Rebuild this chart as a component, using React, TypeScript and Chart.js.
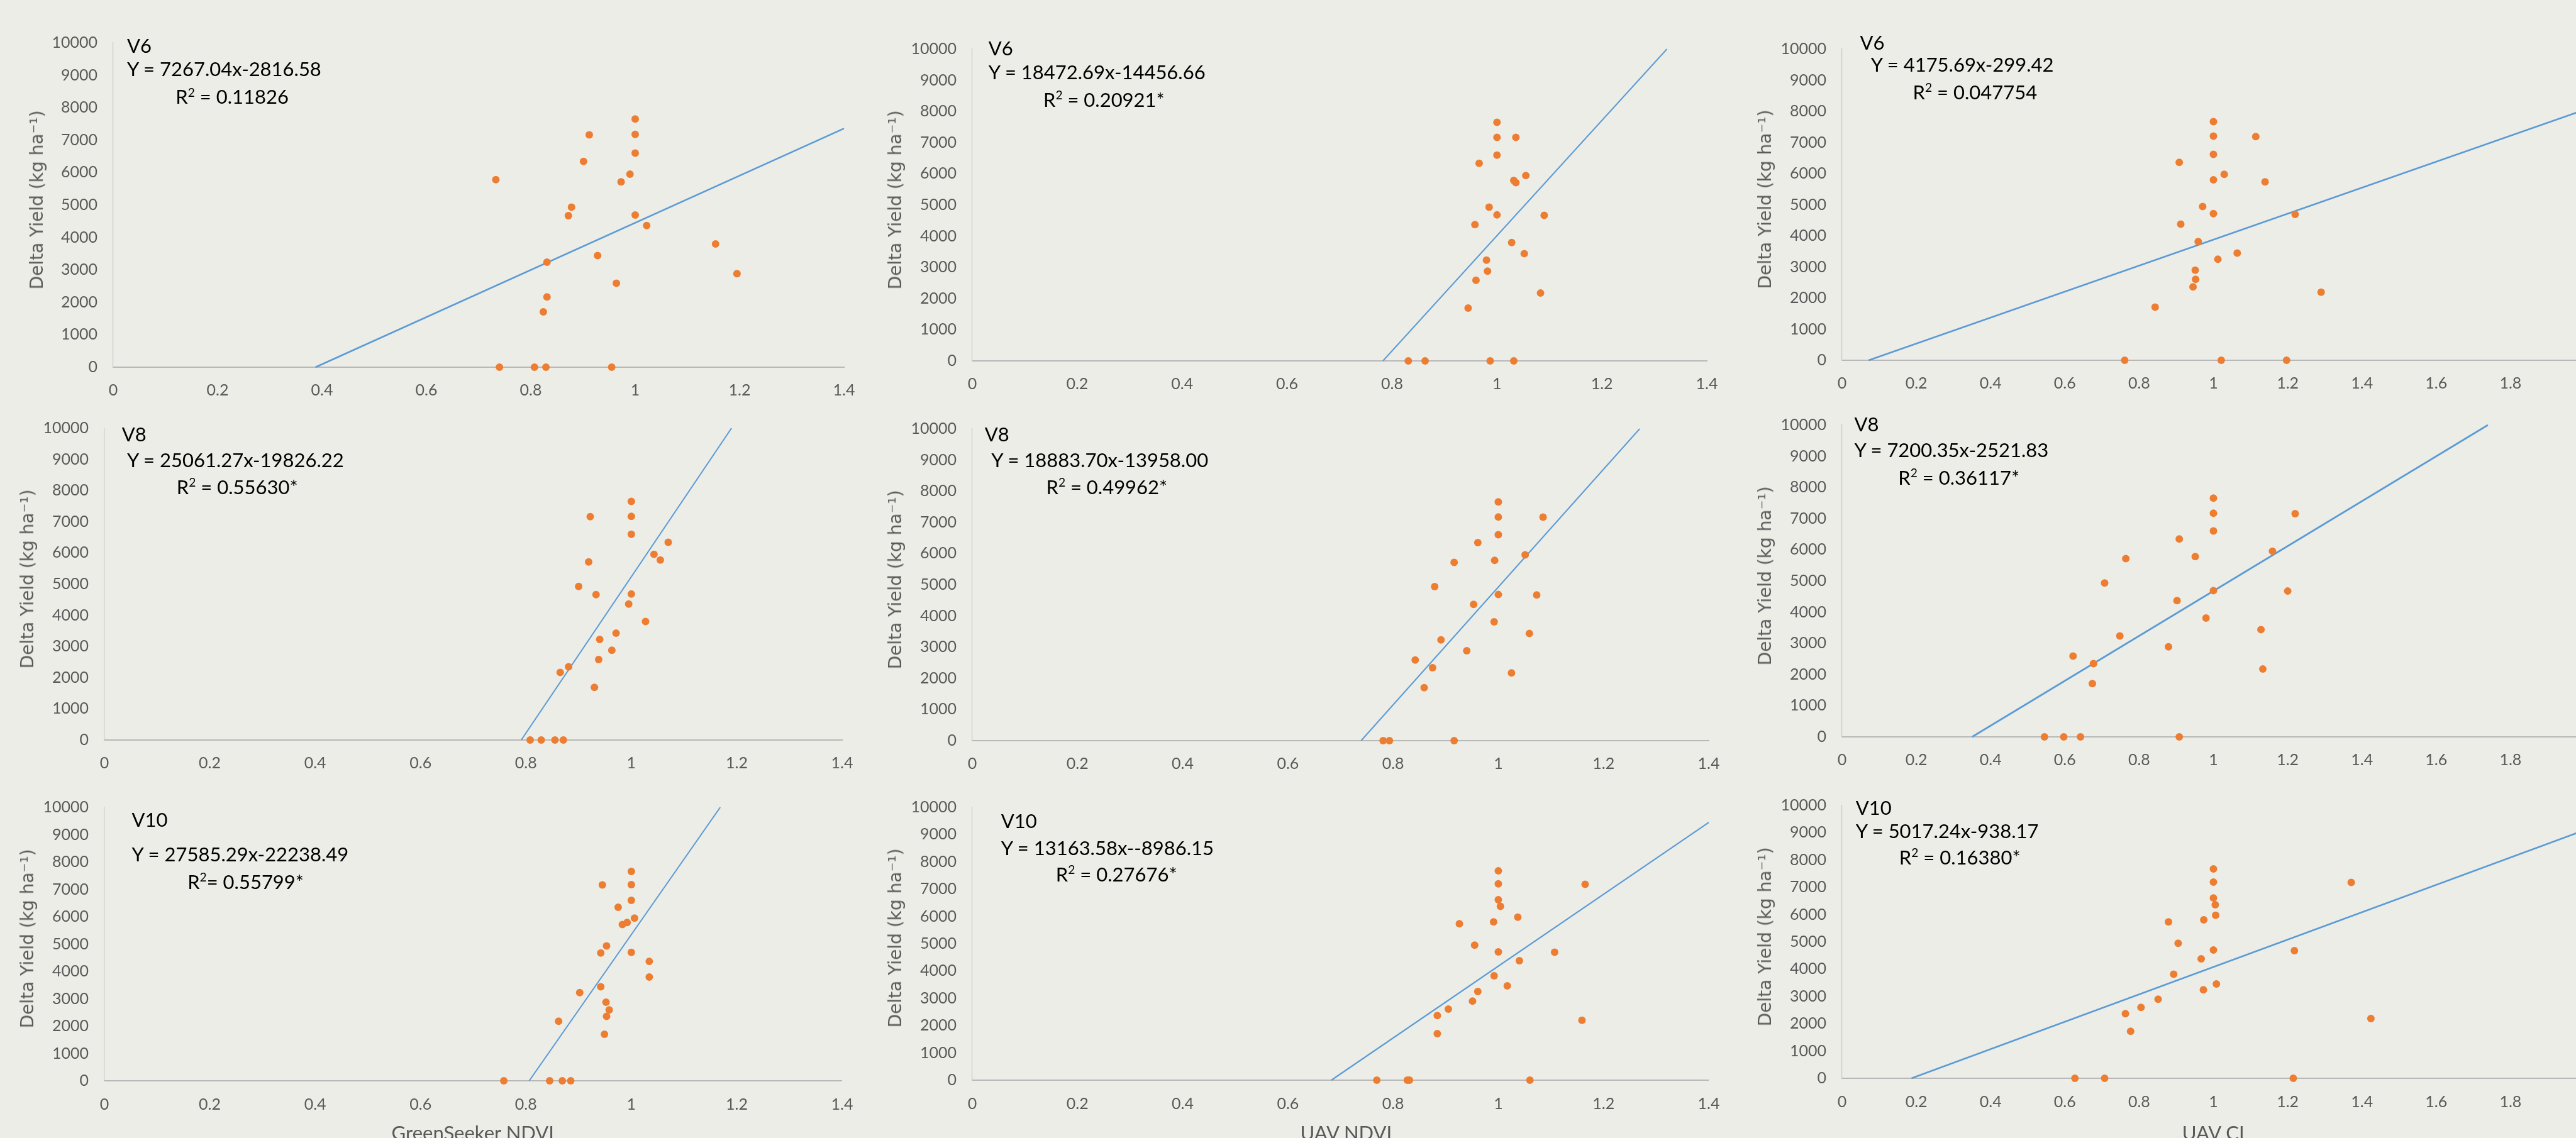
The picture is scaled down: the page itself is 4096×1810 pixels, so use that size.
import React, { useEffect, useRef } from "react";
import { Chart, registerables } from "chart.js";
Chart.register(...registerables);

const S = 0.751;
const TICK_COLOR = "#595959";
const POINT_COLOR = "#ED7D31";
const LINE_COLOR = "#5B9BD5";
const BG = "#EDEDE8";

// ---------- data (x = sensor value, y = delta yield, kg/ha) ----------
const gsV6X = [1.0, 0.912, 1.0, 1.0, 0.901, 0.99, 0.973, 0.733, 0.878, 0.872, 1.0, 1.022, 1.154, 0.928, 0.831, 1.195, 0.964, 0.831, 0.824, 0.74, 0.807, 0.829, 0.955];
const gsV6Y = [7650, 7160, 7175, 6600, 6340, 5950, 5710, 5780, 4930, 4670, 4690, 4365, 3800, 3440, 3235, 2885, 2585, 2165, 1705, 0, 0, 0, 0];

const uavV6X = [1.0, 1.0, 1.036, 1.0, 0.966, 1.055, 1.032, 1.036, 0.985, 1.0, 0.958, 1.09, 1.028, 1.052, 0.98, 0.982, 0.96, 1.083, 0.945, 0.831, 0.863, 0.987, 1.032];
const uavV6Y = [7650, 7165, 7165, 6600, 6335, 5945, 5785, 5715, 4930, 4680, 4370, 4665, 3795, 3440, 3230, 2880, 2585, 2175, 1695, 0, 0, 0, 0];

const ciV6X = [1.0, 1.0, 1.114, 1.0, 0.908, 1.029, 1.0, 1.139, 0.971, 1.0, 1.22, 0.912, 0.959, 1.064, 1.012, 0.951, 0.952, 0.945, 1.29, 0.843, 0.761, 1.021, 1.197];
const ciV6Y = [7665, 7200, 7185, 6615, 6360, 5975, 5800, 5730, 4940, 4710, 4685, 4375, 3815, 3445, 3245, 2895, 2600, 2360, 2185, 1705, 0, 0, 0];

const gsV8X = [1.0, 0.922, 1.0, 1.0, 1.07, 1.043, 1.055, 0.919, 0.9, 0.933, 1.0, 0.995, 1.027, 0.971, 0.94, 0.963, 0.938, 0.881, 0.865, 0.93, 0.808, 0.829, 0.855, 0.871];
const gsV8Y = [7650, 7160, 7170, 6600, 6340, 5955, 5770, 5710, 4925, 4660, 4680, 4360, 3800, 3425, 3225, 2880, 2580, 2350, 2165, 1690, 0, 0, 0, 0];

const uavV8X = [1.0, 1.0, 1.085, 1.0, 0.961, 1.051, 0.993, 0.916, 0.879, 1.0, 1.073, 0.953, 0.992, 1.059, 0.891, 0.94, 0.842, 0.875, 1.025, 0.859, 0.781, 0.793, 0.916];
const uavV8Y = [7655, 7170, 7165, 6605, 6350, 5960, 5780, 5715, 4940, 4685, 4670, 4370, 3810, 3435, 3230, 2885, 2585, 2340, 2170, 1700, 0, 0, 0];

const ciV8X = [1.0, 1.0, 1.22, 1.0, 0.908, 1.159, 0.951, 0.764, 0.707, 1.0, 1.2, 0.902, 0.98, 1.128, 0.748, 0.879, 0.622, 0.677, 1.133, 0.674, 0.545, 0.597, 0.642, 0.908];
const ciV8Y = [7655, 7170, 7155, 6605, 6345, 5955, 5780, 5715, 4935, 4690, 4675, 4370, 3810, 3440, 3235, 2890, 2590, 2350, 2175, 1710, 0, 0, 0, 0];

const gsV10X = [1.0, 0.945, 1.0, 1.0, 0.975, 1.006, 0.992, 0.983, 0.953, 0.942, 1.0, 1.034, 1.034, 0.942, 0.902, 0.952, 0.958, 0.953, 0.862, 0.949, 0.758, 0.845, 0.869, 0.885];
const gsV10Y = [7655, 7160, 7175, 6595, 6345, 5950, 5785, 5715, 4930, 4670, 4695, 4365, 3795, 3435, 3225, 2875, 2590, 2355, 2180, 1700, 0, 0, 0, 0];

const uavV10X = [1.0, 1.0, 1.165, 1.0, 1.004, 1.037, 0.991, 0.926, 0.955, 1.0, 1.107, 1.04, 0.992, 1.017, 0.961, 0.951, 0.905, 0.884, 1.159, 0.884, 0.769, 0.827, 0.831, 1.06];
const uavV10Y = [7670, 7195, 7175, 6615, 6370, 5975, 5800, 5730, 4950, 4700, 4690, 4380, 3825, 3455, 3250, 2900, 2605, 2370, 2195, 1705, 0, 0, 0, 0];

const ciV10X = [1.0, 1.0, 1.371, 1.0, 1.005, 1.006, 0.974, 0.879, 0.905, 1.0, 1.218, 0.967, 0.893, 1.008, 0.973, 0.851, 0.805, 0.763, 1.424, 0.777, 0.627, 0.707, 1.215];
const ciV10Y = [7675, 7190, 7175, 6610, 6360, 5975, 5805, 5730, 4950, 4700, 4680, 4380, 3815, 3455, 3245, 2895, 2600, 2365, 2190, 1720, 0, 0, 0];

// trend line end points (from the printed equations)
const gsV6Trend = [[0.3876, 0], [1.4, 7357]];
const uavV6Trend = [[0.7826, 0], [1.3239, 10000]];
const ciV6Trend = [[0.0717, 0], [2.0, 8052]];
const gsV8Trend = [[0.7911, 0], [1.1901, 10000]];
const uavV8Trend = [[0.7392, 0], [1.2687, 10000]];
const ciV8Trend = [[0.3502, 0], [1.7391, 10000]];
const gsV10Trend = [[0.8062, 0], [1.1687, 10000]];
const uavV10Trend = [[0.6826, 0], [1.4, 9443]];
const ciV10Trend = [[0.187, 0], [2.0, 9096]];

const stages = ["V6", "V8", "V10"];
const equations = [
  "Y = 7267.04x-2816.58", "Y = 18472.69x-14456.66", "Y = 4175.69x-299.42",
  "Y = 25061.27x-19826.22", "Y = 18883.70x-13958.00", "Y = 7200.35x-2521.83",
  "Y = 27585.29x-22238.49", "Y = 13163.58x--8986.15", "Y = 5017.24x-938.17",
];
const r2Values = [
  " = 0.11826", " = 0.20921*", " = 0.047754",
  " = 0.55630*", " = 0.49962*", " = 0.36117*",
  "= 0.55799*", " = 0.27676*", " = 0.16380*",
];
const xTitles = ["GreenSeeker NDVI", "UAV NDVI", "UAV CI"];
const yTitle = "Delta Yield (kg ha\u207B\u00B9)";
const xMaxes = [1.4, 1.4, 2.0];

// ---------- layout (reference pixel coords, scaled by S) ----------
type Panel = {
  xs: number[]; ys: number[]; trend: number[][];
  col: number; row: number;
  L: number; R: number; T: number; B: number;
  lab: number[]; eq: number[]; r2: number[];
  lineW: number; xLabelGap: number;
};

const panels: Panel[] = [
  { xs: gsV6X, ys: gsV6Y, trend: gsV6Trend, col: 0, row: 0, L: 240.3, R: 1787.6, T: 68.8, B: 777, lab: [269, 112], eq: [269, 162], r2: [372, 221], lineW: 2.7, xLabelGap: 49 },
  { xs: uavV6X, ys: uavV6Y, trend: uavV6Trend, col: 1, row: 0, L: 2058, R: 3613.4, T: 82, B: 763.8, lab: [2093, 117.5], eq: [2093, 168], r2: [2209, 226.5], lineW: 2.0, xLabelGap: 49 },
  { xs: ciV6X, ys: ciV6Y, trend: ciV6Trend, col: 2, row: 0, L: 3899.9, R: 5472, T: 82, B: 762.2, lab: [3938, 106], eq: [3961, 152], r2: [4050, 211], lineW: 2.7, xLabelGap: 49 },
  { xs: gsV8X, ys: gsV8Y, trend: gsV8Trend, col: 0, row: 1, L: 220.5, R: 1781.8, T: 885.4, B: 1566.8, lab: [258, 936], eq: [269, 990], r2: [374, 1047.5], lineW: 2.1, xLabelGap: 49 },
  { xs: uavV8X, ys: uavV8Y, trend: uavV8Trend, col: 1, row: 1, L: 2058, R: 3617, T: 887, B: 1569, lab: [2085, 936], eq: [2099, 990], r2: [2215, 1047.5], lineW: 2.0, xLabelGap: 49 },
  { xs: ciV8X, ys: ciV8Y, trend: ciV8Trend, col: 2, row: 1, L: 3899.9, R: 5472, T: 878.6, B: 1561, lab: [3926, 914], eq: [3926, 969], r2: [4019, 1027], lineW: 2.7, xLabelGap: 49 },
  { xs: gsV10X, ys: gsV10Y, trend: gsV10Trend, col: 0, row: 2, L: 220.5, R: 1781.8, T: 1688, B: 2288, lab: [279, 1752], eq: [279, 1825], r2: [397, 1883], lineW: 2.1, xLabelGap: 50 },
  { xs: uavV10X, ys: uavV10Y, trend: uavV10Trend, col: 1, row: 2, L: 2058, R: 3617, T: 1688, B: 2286.7, lab: [2119.5, 1754], eq: [2119.5, 1811], r2: [2235.5, 1867.6], lineW: 2.2, xLabelGap: 50 },
  { xs: ciV10X, ys: ciV10Y, trend: ciV10Trend, col: 2, row: 2, L: 3899.9, R: 5472, T: 1684.4, B: 2284.2, lab: [3929, 1725.7], eq: [3929, 1775], r2: [4021, 1832], lineW: 2.7, xLabelGap: 50 },
];
const xTitleCenters = [1001, 2850, 4686];
const xTitleCapTop = 2385;

const YW = 110;
const TP = 24;
const RP = 40;
const BP = 70;
const TICK_FONT = 25;
const ANN_FONT = 31;

function ScatterPanel({ p, idx }: { p: Panel; idx: number }) {
  const ref = useRef<HTMLCanvasElement | null>(null);
  const plotL = p.L * S;
  const plotT = p.T * S;
  const plotW = (p.R - p.L) * S;
  const plotH = (p.B - p.T) * S;
  const cw = Math.round(plotW + YW + RP);
  const ch = Math.round(plotH + TP + BP);
  const xMax = xMaxes[p.col];

  useEffect(() => {
    if (!ref.current) return;
    const labelPad = p.xLabelGap * S - (TICK_FONT * 1.2) / 2;
    const chart = new Chart(ref.current, {
      type: "scatter",
      data: {
        datasets: [
          {
            data: p.xs.map((x, i) => ({ x, y: p.ys[i] })),
            backgroundColor: POINT_COLOR,
            borderColor: POINT_COLOR,
            borderWidth: 0,
            pointRadius: 6,
            clip: false,
            order: 1,
          } as any,
          {
            type: "line",
            data: p.trend.map(([x, y]) => ({ x, y })),
            borderColor: LINE_COLOR,
            borderWidth: p.lineW,
            pointRadius: 0,
            fill: false,
            clip: false,
            order: 2,
          } as any,
        ],
      },
      options: {
        animation: false,
        responsive: false,
        maintainAspectRatio: false,
        devicePixelRatio: 1,
        events: [],
        layout: { padding: { top: TP, right: RP, left: 0, bottom: 0 } },
        plugins: { legend: { display: false }, tooltip: { enabled: false } },
        scales: {
          x: {
            type: "linear",
            min: 0,
            max: xMax,
            afterFit: (s: any) => { s.height = BP; },
            grid: { display: false, drawTicks: false },
            border: { display: true, color: "#B8B8B8", width: 2 },
            ticks: {
              stepSize: 0.2,
              padding: labelPad,
              color: TICK_COLOR,
              font: { family: "Lato", size: TICK_FONT },
              maxRotation: 0,
              autoSkip: false,
              callback: (v: any) => String(Math.round(Number(v) * 10) / 10),
            },
          },
          y: {
            type: "linear",
            min: 0,
            max: 10000,
            afterFit: (s: any) => { s.width = YW; },
            grid: { display: false, drawTicks: false },
            border: { display: true, color: "#C6C6C6", width: 1.2 },
            ticks: {
              stepSize: 1000,
              padding: 25,
              color: TICK_COLOR,
              font: { family: "Lato", size: TICK_FONT },
              autoSkip: false,
              callback: (v: any) => String(v),
            },
          },
        },
      } as any,
    });
    return () => chart.destroy();
  }, []);

  const base = (b: number) => b * S - 0.887 * ANN_FONT;
  const annStyle: React.CSSProperties = {
    position: "absolute",
    fontFamily: "Lato, 'Open Sans', sans-serif",
    fontSize: ANN_FONT,
    lineHeight: 1,
    color: "#000",
    whiteSpace: "nowrap",
  };

  return (
    <>
      <canvas
        ref={ref}
        width={cw}
        height={ch}
        style={{ position: "absolute", left: plotL - YW, top: plotT - TP, width: cw, height: ch }}
      />
      <div style={{ ...annStyle, left: p.lab[0] * S, top: base(p.lab[1]) }}>{stages[p.row]}</div>
      <div style={{ ...annStyle, left: p.eq[0] * S, top: base(p.eq[1]) }}>{equations[idx]}</div>
      <div style={{ ...annStyle, left: p.r2[0] * S, top: base(p.r2[1]) }}>
        R<span style={{ fontSize: "0.62em", position: "relative", top: "-0.62em" }}>2</span>
        {r2Values[idx]}
      </div>
      <div
        style={{
          position: "absolute",
          left: (p.L - 162) * S,
          top: ((p.T + p.B) / 2) * S,
          transform: "translate(-50%, -50%) rotate(-90deg)",
          fontFamily: "'DejaVu Sans', Verdana, sans-serif",
          fontSize: 28,
          color: TICK_COLOR,
          whiteSpace: "nowrap",
          lineHeight: 1,
        }}
      >
        {yTitle}
      </div>
      {p.row === 2 ? (
        <div
          style={{
            position: "absolute",
            left: xTitleCenters[p.col] * S,
            top: xTitleCapTop * S - (0.887 - 0.7165) * 31,
            transform: "translateX(-50%)",
            fontFamily: "Lato, sans-serif",
            fontSize: 31,
            lineHeight: 1,
            color: TICK_COLOR,
            whiteSpace: "nowrap",
          }}
        >
          {xTitles[p.col]}
        </div>
      ) : null}
    </>
  );
}

export default function App() {
  return (
    <div
      style={{
        position: "fixed",
        left: 0,
        top: 0,
        width: 4096,
        height: 1810,
        overflow: "hidden",
        background: BG,
      }}
    >
      {panels.map((p, i) => (
        <ScatterPanel key={i} p={p} idx={i} />
      ))}
    </div>
  );
}
